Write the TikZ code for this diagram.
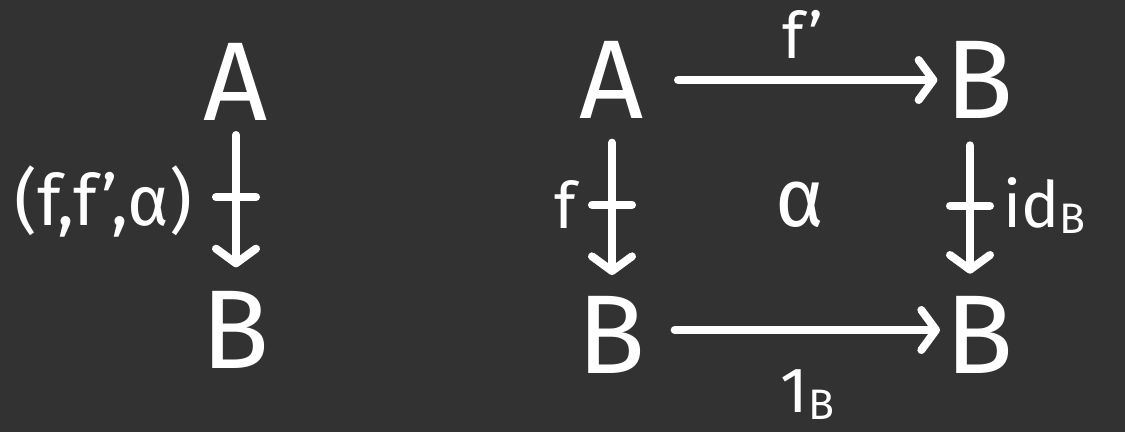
\documentclass[tikz,border=0pt]{standalone}
\usepackage{fontspec}
\setmainfont{Fira Sans}
\usetikzlibrary{arrows.meta,decorations.markings}
\definecolor{bg}{RGB}{50,50,50}
\newcommand{\subB}{\raisebox{-5pt}{\fontsize{32}{32}\selectfont B}}
\tikzset{
  obj/.style={inner sep=0pt, text=white, font=\fontsize{84}{84}\selectfont},
  lbl/.style={inner sep=0pt, text=white, font=\fontsize{48}{48}\selectfont},
  arr/.style={draw=white, line width=6pt, line cap=round,
    -{Straight Barb[length=11pt, width=30pt, round]}},
  pro/.style={arr, postaction={decorate}, decoration={markings,
    mark=at position 0.47 with {\draw[white, line width=6pt, line cap=round, -] (0,-15pt) -- (0,15pt);}}}
}
\begin{document}
\begin{tikzpicture}[x=0.75pt, y=-0.75pt]
\fill[bg] (0,0) rectangle (1125,432);
\useasboundingbox (0,0) rectangle (1125,432);
% left diagram
\node[obj] (LA) at (236,82) {A};
\node[obj] (LB) at (236,330) {B};
\draw[pro] ([yshift=-39.75pt]LA.center) -- ([yshift=47pt]LB.center)
  node[lbl, pos=0.5, left=30pt, font=\fontsize{53}{53}\selectfont] (L1) {(f,f’,α)};
% right diagram
\node[obj] (RA) at (612,80) {A};
\node[obj] (RB1) at (980,80) {B};
\node[obj] (RB2) at (612,335) {B};
\node[obj] (RB3) at (980,335) {B};
\draw[arr] ([xshift=49.5pt]RA.center) -- ([xshift=-32pt]RB1.center)
  node[lbl, pos=0.48, above=13pt] (Lf1) {f’};
\draw[arr] ([xshift=47pt,yshift=3.75pt]RB2.center) -- ([xshift=-30pt,yshift=3.75pt]RB3.center)
  node[lbl, pos=0.5, below=27pt] (L1B) {1\subB};
\draw[pro] ([yshift=-47pt]RA.center) -- ([yshift=45pt]RB2.center)
  node[lbl, pos=0.47, left=24pt] (Lf) {f};
\draw[pro] ([xshift=-7.5pt,yshift=-49pt]RB1.center) -- ([xshift=-7.5pt,yshift=46pt]RB3.center)
  node[lbl, pos=0.47, right=22pt] (Lid) {id\subB};
\node[obj, font=\fontsize{62}{62}\selectfont] (alpha) at (800,205) {α};
\end{tikzpicture}
\end{document}
